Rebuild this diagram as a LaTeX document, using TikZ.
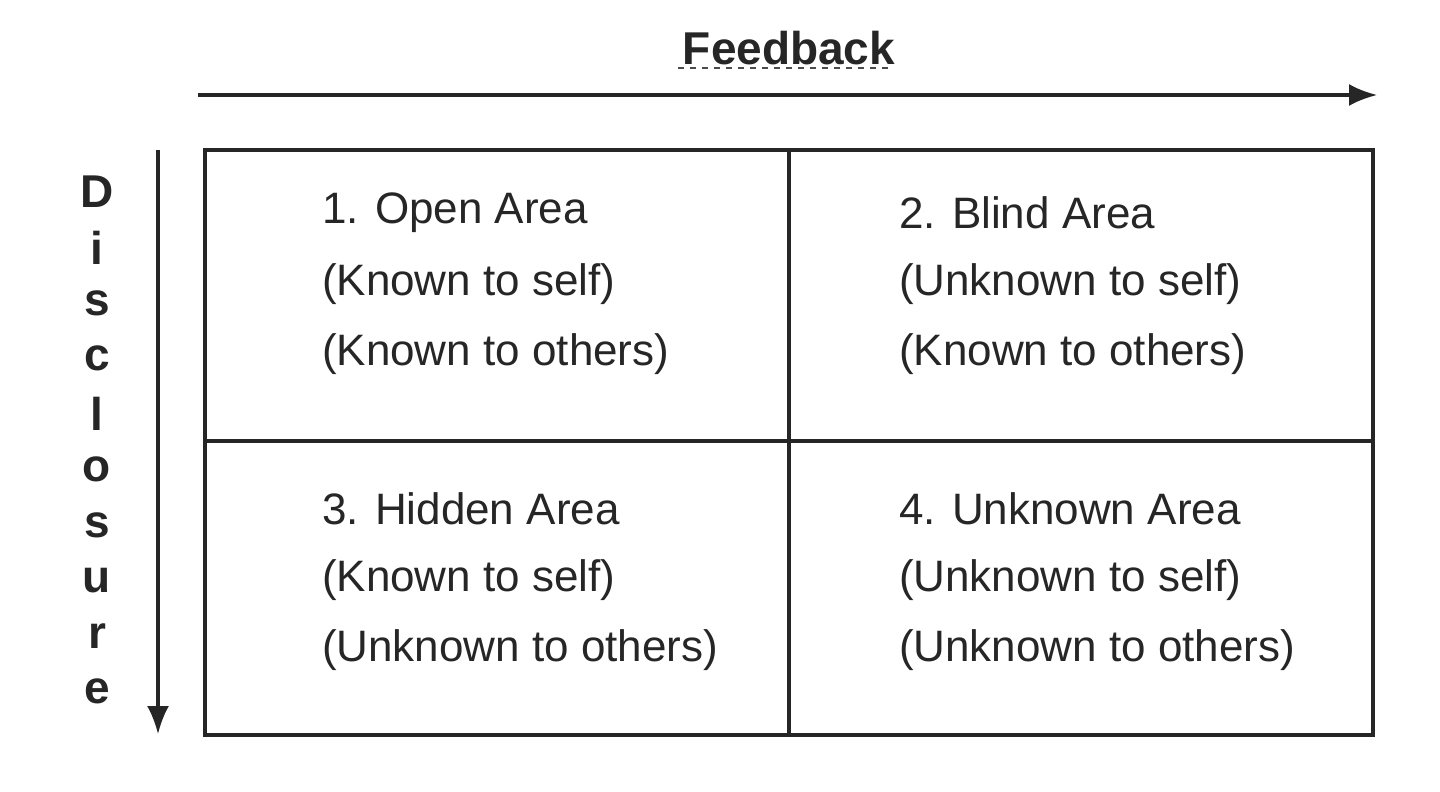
\documentclass[tikz,border=0pt]{standalone}
\usepackage{fontspec}
\setmainfont{Liberation Sans}
\begin{document}
\begin{tikzpicture}[x=0.5pt,y=-0.5pt,
  cell/.style={anchor=west,font=\fontsize{22}{26}\selectfont,text=black!85},
  lab/.style={font=\fontsize{23}{27}\selectfont\bfseries,text=black!85},
  ln/.style={line width=1.6pt,draw=black!85},
  arr/.style={line width=1.6pt,draw=black!85,-{Latex[length=14pt,width=11pt]}}]
\useasboundingbox (0,0) rectangle (1440,792);
\usetikzlibrary{arrows.meta}
\coordinate (tl) at (205,150); \coordinate (br) at (1373,735);
\draw[ln] (tl) rectangle (br);
\coordinate (vt) at (789,150); \coordinate (vb) at (789,735);
\coordinate (hl) at (205,441); \coordinate (hr) at (1373,441);
\draw[ln] (vt) -- (vb); \draw[ln] (hl) -- (hr);
\coordinate (fa) at (198,95); \coordinate (fb) at (1377,95);
\draw[arr] (fa) -- (fb);
\coordinate (da) at (158,150); \coordinate (db) at (158,734);
\draw[arr] (da) -- (db);
\node[lab] (fb1) at (789,48) {Feedback};
\draw[dashed,line width=0.8pt,black!70] (fb1.south west)++(2,-4) coordinate (u1) -- ++(210,0);
\foreach \l [count=\i] in {D,i,s,c,l,o,s,u,r,e}
  \node[lab] (d\i) at (97,{192+(\i-1)*55.5}) {\l};
\foreach \x/\y/\a/\b/\c [count=\k] in {
 315/213/{1. Open Area}/{(Known to self)}/{(Known to others)},
 892/213/{2. Blind Area}/{(Unknown to self)}/{(Known to others)},
 315/509/{3. Hidden Area}/{(Known to self)}/{(Unknown to others)},
 892/509/{4. Unknown Area}/{(Unknown to self)}/{(Unknown to others)}}{
  \node[cell] (c\k a) at (\x,\y) {\a};
  \node[cell] (c\k b) at (\x,\y+71) {\b};
  \node[cell] (c\k c) at (\x,\y+141) {\c};
}
\end{tikzpicture}
\end{document}
